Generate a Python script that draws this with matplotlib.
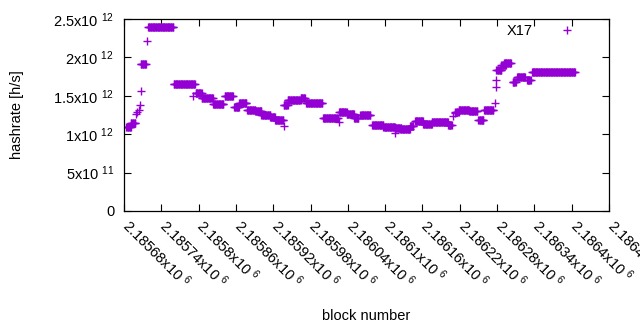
import matplotlib
matplotlib.use("Agg")
import matplotlib.pyplot as plt
import matplotlib.transforms as mtransforms
import numpy as np

plt.rcParams["font.family"] = ["Liberation Sans", "DejaVu Sans"]
plt.rcParams["mathtext.fontset"] = "custom"
plt.rcParams["mathtext.rm"] = "Liberation Sans"
plt.rcParams["mathtext.default"] = "regular"

# constant-hashrate runs (first block, last block, h/s)
seg_start = [2185684, 2185691, 2185707, 2185719, 2185760, 2185795, 2185805, 2185823,
             2185842, 2185857, 2185865, 2185878, 2185891, 2185901, 2185915, 2185923,
             2185938, 2185943, 2185964, 2185973, 2186000, 2186026, 2186038, 2186050,
             2186060, 2186079, 2186097, 2186116, 2186124, 2186140, 2186148, 2186161,
             2186175, 2186201, 2186213, 2186218, 2186235, 2186250, 2186259, 2186279,
             2186287, 2186291, 2186305, 2186312, 2186328, 2186336]
seg_end = [2185691, 2185698, 2185715, 2185759, 2185794, 2185805, 2185823, 2185840,
           2185855, 2185865, 2185877, 2185891, 2185901, 2185915, 2185923, 2185936,
           2185943, 2185964, 2185971, 2185999, 2186024, 2186038, 2186050, 2186057,
           2186076, 2186097, 2186116, 2186126, 2186140, 2186145, 2186161, 2186175,
           2186201, 2186207, 2186218, 2186235, 2186248, 2186258, 2186274, 2186287,
           2186294, 2186302, 2186310, 2186325, 2186334, 2186405]
seg_value = [1.10e12, 1.14e12, 1.92e12, 2.39e12, 1.65e12, 1.53e12, 1.47e12, 1.39e12,
             1.50e12, 1.36e12, 1.40e12, 1.32e12, 1.30e12, 1.25e12, 1.22e12, 1.185e12,
             1.38e12, 1.445e12, 1.47e12, 1.40e12, 1.21e12, 1.285e12, 1.26e12, 1.215e12,
             1.245e12, 1.12e12, 1.10e12, 1.077e12, 1.064e12, 1.107e12, 1.176e12, 1.133e12,
             1.163e12, 1.12e12, 1.29e12, 1.32e12, 1.30e12, 1.185e12, 1.315e12, 1.836e12,
             1.90e12, 1.93e12, 1.676e12, 1.74e12, 1.70e12, 1.814e12]

# isolated blocks between the runs
single_block = [2185699, 2185701, 2185704, 2185706, 2185708, 2185717, 2185791, 2185937,
                2185938, 2186025, 2186116, 2186209, 2186212, 2186277, 2186278, 2186279]
single_value = [1.26e12, 1.29e12, 1.32e12, 1.38e12, 1.56e12, 2.21e12, 1.50e12, 1.38e12,
                1.11e12, 1.16e12, 1.02e12, 1.24e12, 1.28e12, 1.40e12, 1.62e12, 1.71e12]

xticks = np.arange(2185680, 2186461, 60)
yticks = [0, 5e11, 1e12, 1.5e12, 2e12, 2.5e12]
ytick_labels = ["0", "5x10 $^{11}$", "1x10 $^{12}$", "1.5x10 $^{12}$", "2x10 $^{12}$",
                "2.5x10 $^{12}$"]

blocks, rates = [], []
for s, e, v in zip(seg_start, seg_end, seg_value):
    b = np.arange(s, e + 1)
    blocks.extend(b)
    rates.extend([v] * len(b))
blocks.extend(single_block)
rates.extend(single_value)

fig = plt.figure(figsize=(6.4, 3.3), dpi=100)
ax = fig.add_axes([124 / 640, 1 - 211 / 330, 485 / 640, 192 / 330])

ax.plot(blocks, rates, "+", color="#9400D3", markersize=6, markeredgewidth=1.0,
        linestyle="none", label="X17")

ax.set_xlim(2185680, 2186460)
ax.set_ylim(0, 2.5e12)
ax.set_xticks(xticks)
ax.set_xticklabels(["%gx10 $^{6}$" % (t / 1e6) for t in xticks], rotation=-45,
                   ha="left", va="top", rotation_mode="anchor", fontsize=10.5)
ax.set_yticks(yticks)
ax.set_yticklabels(ytick_labels, fontsize=10.5)
ax.tick_params(direction="in", length=5, width=0.8, top=True, right=True, pad=7)
ax.tick_params(axis="x", pad=8)
for sp in ax.spines.values():
    sp.set_linewidth(0.9)

# nudge rotated labels so they start right at the tick, like gnuplot does
shift = mtransforms.ScaledTranslation(0.08, 0.06, fig.dpi_scale_trans)
for lbl in ax.get_xticklabels():
    lbl.set_transform(lbl.get_transform() + shift)

ax.set_xlabel("block number", fontsize=10.5)
ax.xaxis.set_label_coords(0.5, -0.51)
ax.set_ylabel("hashrate [h/s]", fontsize=10.5)
ax.yaxis.set_label_coords(-0.206, 0.5)

ax.legend(loc="center right", frameon=False, markerfirst=False, fontsize=10.5,
          handlelength=0.5, handletextpad=2.15, borderpad=0, borderaxespad=0,
          bbox_to_anchor=(0.9215, 0.935))

fig.savefig("out.png", dpi=100)
